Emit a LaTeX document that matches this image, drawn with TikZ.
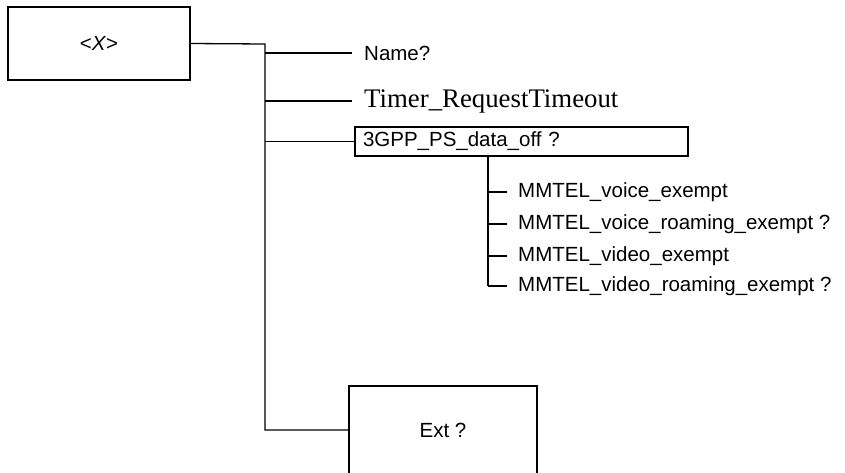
\documentclass[tikz,border=0pt]{standalone}
\usepackage{fontspec}
\setmainfont{Liberation Sans}
\newfontfamily\timesfont{Liberation Serif}
\begin{document}
\begin{tikzpicture}[x=1pt,y=-1pt,
  box/.style={draw,line width=1.3pt,inner sep=0pt},
  conn/.style={line width=1.3pt},
  lbl/.style={anchor=west,inner sep=0pt,font=\fontsize{20.5}{22}\selectfont},
]
\useasboundingbox (0,0) rectangle (845,472);
\node[box,minimum width=182pt,minimum height=73pt,font=\fontsize{20.5}{22}\selectfont] (X) at (99,43.5) {<\textit{X}>};
\coordinate (trunk) at (265,44);
\coordinate (tEnd) at (265,430);
\node[lbl] (name) at (364,53) {Name?};
\node[lbl,font=\timesfont\fontsize{26.8}{28}\selectfont] (timer) at (364,101) {Timer\_RequestTimeout};
\node[box,minimum width=333pt,minimum height=29pt,font=\fontsize{20.5}{22}\selectfont,text width=317pt,align=left] (ps) at (521.5,141.5) {3GPP\_PS\_data\_off ?};
\node[box,minimum width=188pt,minimum height=88pt,font=\fontsize{20.5}{22}\selectfont] (ext) at (443,430) {Ext ?};
\node[lbl] (m1) at (518,192) {MMTEL\_voice\_exempt};
\node[lbl] (m2) at (518,224) {MMTEL\_voice\_roaming\_exempt ?};
\node[lbl] (m3) at (518,256) {MMTEL\_video\_exempt};
\node[lbl] (m4) at (518,286) {MMTEL\_video\_roaming\_exempt ?};
\draw[conn] (X.east) -- (trunk) -- (tEnd) -- (ext.west);
\draw[conn] (trunk |- name) -- ([xshift=-12pt]name.west);
\draw[conn] (trunk |- timer) -- ([xshift=-12pt]timer.west);
\draw[conn] (trunk |- ps) -- (ps.west);
\coordinate (sub) at (488,0);
\draw[conn] (sub |- ps.south) -- (sub |- m4);
\foreach \m in {m1,m2,m3,m4}
  \draw[conn] (sub |- \m) -- ([xshift=-11pt]\m.west);
\end{tikzpicture}
\end{document}
